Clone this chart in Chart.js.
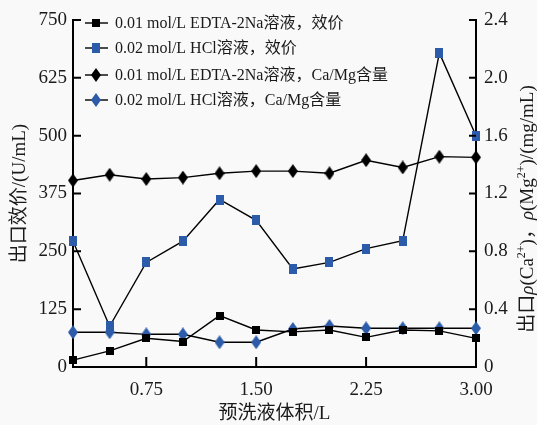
<!DOCTYPE html>
<html>
<head>
<meta charset="utf-8">
<script src="https://cdn.jsdelivr.net/npm/chart.js@4/dist/chart.umd.min.js"></script>
<style>
  html, body { margin: 0; padding: 0; background: #f9f9f9; }
  #wrap { width: 537px; height: 425px; }
</style>
</head>
<body>
<div id="wrap"><canvas id="chart" width="537" height="425"></canvas></div>
<script>
/* ── Data ─────────────────────────────────────────────────── */
const volumes   = [0.25, 0.5, 0.75, 1.0, 1.25, 1.5, 1.75, 2.0, 2.25, 2.5, 2.75, 3.0];
const edtaTiter = [15, 35, 62, 55, 111, 80, 76, 80, 64, 80, 78, 62];
const hclTiter  = [272, 88, 226, 272, 362, 317, 212, 226, 256, 273, 679, 500];
const edtaCaMg  = [1.29, 1.33, 1.30, 1.31, 1.34, 1.355, 1.355, 1.34, 1.43, 1.38, 1.455, 1.45];
const hclCaMg   = [0.24, 0.24, 0.226, 0.226, 0.171, 0.171, 0.263, 0.284, 0.268, 0.268, 0.268, 0.268];

const seriesLabels = [
  '0.01 mol/L EDTA-2Na溶液，效价',
  '0.02 mol/L HCl溶液，效价',
  '0.01 mol/L EDTA-2Na溶液，Ca/Mg含量',
  '0.02 mol/L HCl溶液，Ca/Mg含量'
];

const xTicks      = [0.75, 1.5, 2.25, 3.0];
const yLeftTicks  = [0, 125, 250, 375, 500, 625, 750];
const yRightTicks = [0, 0.4, 0.8, 1.2, 1.6, 2.0, 2.4];

/* ── Styling ──────────────────────────────────────────────── */
const SERIF = '"Liberation Serif", "Times New Roman", "Noto Sans CJK SC", serif';
const INK   = '#1a1a1a';
const BLUE  = '#2b5ba9';

function makeMarker(shape, color, w, h) {
  const c = document.createElement('canvas');
  c.width = w; c.height = h;
  const g = c.getContext('2d');
  g.fillStyle = color;
  if (shape === 'square') {
    g.fillRect(0, 0, w, h);
  } else {
    g.beginPath();
    g.moveTo(w / 2, 0); g.lineTo(w, h / 2); g.lineTo(w / 2, h); g.lineTo(0, h / 2);
    g.closePath(); g.fill();
  }
  return c;
}

const markers = [
  makeMarker('square', '#000', 8, 8),
  makeMarker('square', BLUE, 8, 10),
  makeMarker('diamond', '#000', 10, 14),
  makeMarker('diamond', BLUE, 10, 14)
];

const toPoints = arr => volumes.map((v, i) => ({ x: v, y: arr[i] }));

function lineSet(i, values, axis) {
  return {
    label: seriesLabels[i],
    data: toPoints(values),
    yAxisID: axis,
    borderColor: '#000',
    borderWidth: 1.4,
    pointStyle: markers[i],
    pointRadius: 5,
    pointHoverRadius: 5,
    tension: 0,
    clip: false
  };
}

/* ── Inward tick marks ────────────────────────────────────── */
const inwardTicks = {
  id: 'inwardTicks',
  afterDraw(chart) {
    const { ctx, chartArea: a, scales } = chart;
    ctx.save();
    ctx.strokeStyle = '#000';
    ctx.lineWidth = 2;
    ctx.beginPath();
    xTicks.forEach(v => {
      const px = scales.x.getPixelForValue(v);
      ctx.moveTo(px, a.bottom); ctx.lineTo(px, a.bottom - 10);
    });
    yLeftTicks.forEach(v => {
      const py = scales.y.getPixelForValue(v);
      ctx.moveTo(a.left, py); ctx.lineTo(a.left + 8, py);
    });
    yRightTicks.forEach(v => {
      const py = scales.y1.getPixelForValue(v);
      ctx.moveTo(a.right, py); ctx.lineTo(a.right - 7, py);
    });
    ctx.stroke();
    ctx.restore();
  }
};

/* ── Legend inside the plot (line + marker) ───────────────── */
const insideLegend = {
  id: 'insideLegend',
  afterDraw(chart) {
    const ctx = chart.ctx;
    const rows = [23, 48, 75, 100];
    ctx.save();
    chart.data.datasets.forEach((ds, i) => {
      const y = rows[i];
      ctx.strokeStyle = '#000';
      ctx.lineWidth = 1.4;
      ctx.beginPath(); ctx.moveTo(85, y); ctx.lineTo(108, y); ctx.stroke();
      const m = ds.pointStyle;
      ctx.drawImage(m, 96 - m.width / 2, y - m.height / 2);
      ctx.fillStyle = INK;
      ctx.font = '16px ' + SERIF;
      ctx.textBaseline = 'middle';
      ctx.textAlign = 'left';
      ctx.fillText(ds.label, 115, y + 1);
    });
    ctx.restore();
  }
};

/* ── Right axis title with italic rho and superscripts ────── */
const rightTitle = {
  id: 'rightTitle',
  afterDraw(chart) {
    const ctx = chart.ctx;
    const base = '19px ' + SERIF, ital = 'italic 19px ' + SERIF, sup = '12px ' + SERIF;
    const segs = [
      { t: '出口', f: base }, { t: 'ρ', f: ital }, { t: '(Ca', f: base },
      { t: '2+', f: sup, dy: -8 }, { t: ')，', f: base },
      { t: 'ρ', f: ital }, { t: '(Mg', f: base },
      { t: '2+', f: sup, dy: -8 }, { t: ')/(mg/mL)', f: base }
    ];
    let total = 0;
    segs.forEach(s => { ctx.font = s.f; s.w = ctx.measureText(s.t).width; total += s.w; });
    ctx.save();
    ctx.translate(527, 209);
    ctx.rotate(-Math.PI / 2);
    ctx.fillStyle = INK;
    ctx.textBaseline = 'alphabetic';
    let x = -total / 2;
    segs.forEach(s => {
      ctx.font = s.f;
      ctx.fillText(s.t, x, 6 + (s.dy || 0));
      x += s.w;
    });
    ctx.restore();
  }
};

const tickFont = { family: SERIF, size: 19 };

new Chart(document.getElementById('chart'), {
  type: 'line',
  data: {
    datasets: [
      lineSet(0, edtaTiter, 'y'),
      lineSet(1, hclTiter, 'y'),
      lineSet(2, edtaCaMg, 'y1'),
      lineSet(3, hclCaMg, 'y1')
    ]
  },
  options: {
    responsive: false,
    animation: false,
    layout: { padding: { top: 20, left: 0, right: 0, bottom: 0 } },
    plugins: { legend: { display: false }, tooltip: { enabled: false } },
    scales: {
      x: {
        type: 'linear',
        min: 0.25, max: 3.0,
        afterBuildTicks: s => { s.ticks = xTicks.map(v => ({ value: v })); },
        afterFit: s => { s.height = 58; },
        grid: { display: false, drawTicks: false },
        border: { color: '#000', width: 2 },
        ticks: { color: INK, font: tickFont, padding: 12, maxRotation: 0,
                 callback: v => Number(v).toFixed(2) },
        title: { display: true, text: '预洗液体积/L', color: INK,
                 font: { family: SERIF, size: 19 }, padding: { top: 0, bottom: 0 } }
      },
      y: {
        position: 'left',
        min: 0, max: 750,
        afterBuildTicks: s => { s.ticks = yLeftTicks.map(v => ({ value: v })); },
        afterFit: s => { s.width = 73; },
        grid: { display: false, drawTicks: false },
        border: { color: '#000', width: 2 },
        ticks: { color: INK, font: tickFont, padding: 6 },
        title: { display: true, text: '出口效价/(U/mL)', color: INK,
                 font: { family: SERIF, size: 19 }, padding: { top: 9, bottom: 0 } }
      },
      y1: {
        position: 'right',
        min: 0, max: 2.4,
        afterBuildTicks: s => { s.ticks = yRightTicks.map(v => ({ value: v })); },
        afterFit: s => { s.width = 61; },
        grid: { display: false, drawTicks: false },
        border: { color: '#000', width: 2 },
        ticks: { color: INK, font: tickFont, padding: 8,
                 callback: v => (v === 0 ? '0' : Number(v).toFixed(1)) }
      }
    }
  },
  plugins: [inwardTicks, insideLegend, rightTitle]
});
</script>
</body>
</html>
